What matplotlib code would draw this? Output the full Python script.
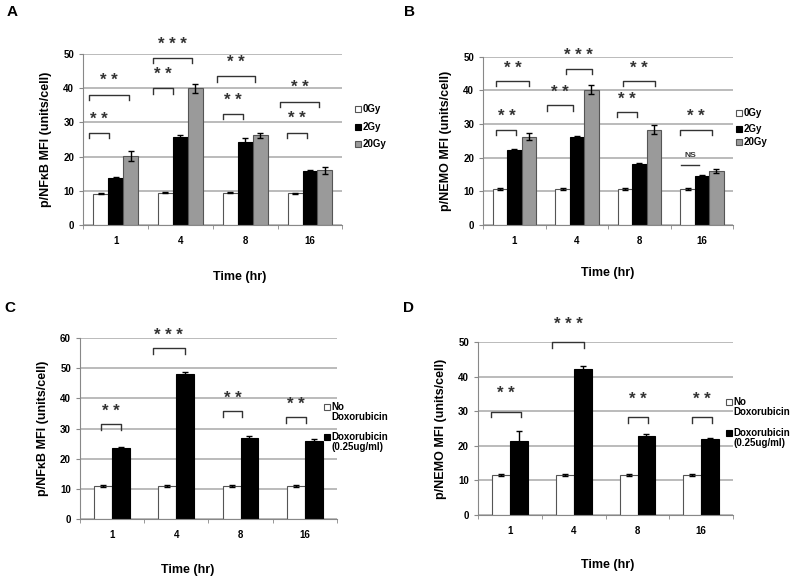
import matplotlib
matplotlib.use("Agg")
import matplotlib.pyplot as plt
from matplotlib.patches import Rectangle
import numpy as np

plt.rcParams['font.family'] = ['Liberation Sans', 'DejaVu Sans']
plt.rcParams['font.weight'] = 'bold'

times = ['1', '4', '8', '16']

# Panel A - p/NFkB, irradiation
a_0gy = [9.2, 9.5, 9.5, 9.3]
a_0gy_err = [0.2, 0.2, 0.2, 0.2]
a_2gy = [13.8, 25.8, 24.3, 15.8]
a_2gy_err = [0.3, 0.4, 1.1, 0.2]
a_20gy = [20.2, 40.0, 26.2, 16.0]
a_20gy_err = [1.4, 1.3, 0.7, 1.1]

# Panel B - p/NEMO, irradiation
b_0gy = [10.7, 10.7, 10.7, 10.7]
b_0gy_err = [0.2, 0.2, 0.2, 0.2]
b_2gy = [22.3, 26.3, 18.0, 14.7]
b_2gy_err = [0.2, 0.3, 0.5, 0.2]
b_20gy = [26.3, 40.2, 28.4, 16.1]
b_20gy_err = [1.0, 1.3, 1.3, 0.5]

# Panel C - p/NFkB, doxorubicin
c_nodox = [11.0, 11.0, 11.0, 11.0]
c_nodox_err = [0.2, 0.3, 0.2, 0.2]
c_dox = [23.5, 48.0, 27.0, 26.0]
c_dox_err = [0.5, 0.8, 0.7, 0.5]

# Panel D - p/NEMO, doxorubicin
d_nodox = [11.6, 11.6, 11.6, 11.6]
d_nodox_err = [0.2, 0.2, 0.2, 0.2]
d_dox = [21.5, 42.2, 22.8, 22.0]
d_dox_err = [2.8, 1.0, 0.6, 0.4]

irr_labels = ['0Gy', '2Gy', '20Gy']
dox_labels = ['No\nDoxorubicin', 'Doxorubicin\n(0.25ug/ml)']

# significance brackets: (group, x-offset left, x-offset right, bracket height, label)
a_sig = [(0, -0.41, -0.10, 26.9, '* *'), (0, -0.41, 0.20, 38.1, '* *'),
         (1, -0.42, -0.12, 40.0, '* *'), (1, -0.42, 0.18, 48.9, '* * *'),
         (2, -0.34, -0.03, 32.5, '* *'), (2, -0.43, 0.15, 43.5, '* *'),
         (3, -0.36, -0.05, 27.0, '* *'), (3, -0.46, 0.14, 36.1, '* *')]
b_sig = [(0, -0.29, 0.03, 28.4, '* *'), (0, -0.29, 0.23, 42.9, '* *'),
         (1, -0.48, -0.07, 35.6, '* *'), (1, -0.18, 0.24, 46.5, '* * *'),
         (2, -0.36, -0.04, 33.7, '* *'), (2, -0.26, 0.25, 42.9, '* *'),
         (3, -0.35, 0.16, 28.4, '* *')]
c_sig = [(0, -0.17, 0.14, 31.4, '* *'), (1, -0.37, 0.13, 56.7, '* * *'),
         (2, -0.28, 0.03, 35.7, '* *'), (3, -0.29, 0.02, 33.8, '* *')]
d_sig = [(0, -0.29, 0.17, 29.9, '* *'), (1, -0.34, 0.16, 50.0, '* * *'),
         (2, -0.15, 0.17, 28.3, '* *'), (3, -0.14, 0.17, 28.3, '* *')]

GRID = '#a8a8a8'
GRAY = '#9a9a9a'
EDGE = '#555555'


def style_axes(ax, ymax, step, ylabel):
    ax.set_xlim(-0.5, 3.5)
    ax.set_ylim(0, ymax)
    ax.set_yticks(np.arange(0, ymax + 1, step))
    ax.yaxis.grid(True, color=GRID, linewidth=1.1)
    ax.set_axisbelow(True)
    for s in ['top', 'right']:
        ax.spines[s].set_visible(False)
    ax.spines['left'].set_color('#888888')
    ax.spines['bottom'].set_color('#888888')
    ax.set_xticks(range(len(times)))
    ax.set_xticklabels(times, fontsize=7, fontweight='bold')
    ax.set_xticks(np.arange(-0.5, 4.0, 1.0), minor=True)
    ax.tick_params(axis='x', which='major', length=0, pad=8)
    ax.tick_params(axis='x', which='minor', length=3, color='#888888')
    ax.tick_params(axis='y', length=3, color='#888888', labelsize=7)
    for t in ax.get_yticklabels():
        t.set_fontweight('bold')
    ax.set_ylabel(ylabel, fontsize=9, fontweight='bold', labelpad=8)


def draw_sig(ax, sig, ymax, star_off):
    leg = 0.032 * ymax
    for g, xl, xr, y, lab in sig:
        ax.plot([g + xl, g + xl, g + xr, g + xr], [y - leg, y, y, y - leg],
                color='#333333', linewidth=1.0, clip_on=False)
        ax.text(g + (xl + xr) / 2, y + star_off * ymax, lab, ha='center',
                va='center', fontsize=12, color='#333333', clip_on=False)


def fig_legend(fig, labels, colors, px, rows):
    # px: x of square (pixels), rows: y of first text line for each entry (pixels)
    for lab, (fc, ec), py in zip(labels, colors, rows):
        s = 6
        fig.patches.append(Rectangle(((px) / 800, 1 - (py + s / 2) / 580), s / 800, s / 580,
                                     facecolor=fc, edgecolor=ec, linewidth=0.8,
                                     transform=fig.transFigure, figure=fig))
        fig.text((px + s + 1.5) / 800, 1 - (py - 5) / 580, lab, ha='left', va='top',
                 fontsize=7, fontweight='bold', linespacing=1.0)


fig = plt.figure(figsize=(8, 5.8), dpi=100)
x = np.arange(len(times))
ekw = dict(ecolor='black', capsize=2, elinewidth=1, capthick=1)

# ---- A ----
axA = fig.add_axes([0.104, 0.612, 0.324, 0.295])
w = 0.23
axA.bar(x - w, a_0gy, w, yerr=a_0gy_err, color='white', edgecolor=EDGE, linewidth=0.8, error_kw=ekw)
axA.bar(x, a_2gy, w, yerr=a_2gy_err, color='black', edgecolor='black', linewidth=0.8, error_kw=ekw)
axA.bar(x + w, a_20gy, w, yerr=a_20gy_err, color=GRAY, edgecolor=EDGE, linewidth=0.8, error_kw=ekw)
style_axes(axA, 50, 10, 'p/NF\u03baB MFI (units/cell)')
draw_sig(axA, a_sig, 50, 0.08)

# ---- B ----
axB = fig.add_axes([0.604, 0.612, 0.3125, 0.29])
axB.bar(x - w, b_0gy, w, yerr=b_0gy_err, color='white', edgecolor=EDGE, linewidth=0.8, error_kw=ekw)
axB.bar(x, b_2gy, w, yerr=b_2gy_err, color='black', edgecolor='black', linewidth=0.8, error_kw=ekw)
axB.bar(x + w, b_20gy, w, yerr=b_20gy_err, color=GRAY, edgecolor=EDGE, linewidth=0.8, error_kw=ekw)
style_axes(axB, 50, 10, 'p/NEMO MFI (units/cell)')
draw_sig(axB, b_sig, 50, 0.075)
# NS line at 16 h
axB.plot([3 - 0.34, 3 - 0.04], [17.8, 17.8], color='#333333', linewidth=1.0)
axB.text(3 - 0.19, 20.6, 'NS', ha='center', va='center', fontsize=6, color='#333333')

# ---- C ----
axC = fig.add_axes([0.10, 0.105, 0.321, 0.312])
w2 = 0.28
axC.bar(x - w2 / 2, c_nodox, w2, yerr=c_nodox_err, color='white', edgecolor=EDGE, linewidth=0.8, error_kw=ekw)
axC.bar(x + w2 / 2, c_dox, w2, yerr=c_dox_err, color='black', edgecolor='black', linewidth=0.8, error_kw=ekw)
style_axes(axC, 60, 10, 'p/NF\u03baB MFI (units/cell)')
draw_sig(axC, c_sig, 60, 0.072)

# ---- D ----
axD = fig.add_axes([0.5975, 0.112, 0.319, 0.298])
axD.bar(x - w2 / 2, d_nodox, w2, yerr=d_nodox_err, color='white', edgecolor=EDGE, linewidth=0.8, error_kw=ekw)
axD.bar(x + w2 / 2, d_dox, w2, yerr=d_dox_err, color='black', edgecolor='black', linewidth=0.8, error_kw=ekw)
style_axes(axD, 50, 10, 'p/NEMO MFI (units/cell)')
draw_sig(axD, d_sig, 50, 0.105)

# legends
irr_colors = [('white', EDGE), ('black', 'black'), (GRAY, EDGE)]
dox_colors = [('white', EDGE), ('black', 'black')]
fig_legend(fig, irr_labels, irr_colors, 355, [109, 127, 144])
fig_legend(fig, irr_labels, irr_colors, 736, [113, 129, 142])
fig_legend(fig, dox_labels, dox_colors, 324, [407, 437])
fig_legend(fig, dox_labels, dox_colors, 726, [402, 433])

# x labels
fig.text(0.299, 1 - 277 / 580, 'Time (hr)', ha='center', va='center', fontsize=9, fontweight='bold')
fig.text(0.759, 1 - 273 / 580, 'Time (hr)', ha='center', va='center', fontsize=9, fontweight='bold')
fig.text(0.234, 1 - 570 / 580, 'Time (hr)', ha='center', va='center', fontsize=9, fontweight='bold')
fig.text(0.759, 1 - 565 / 580, 'Time (hr)', ha='center', va='center', fontsize=9, fontweight='bold')

# panel letters
for lab, px, py in [('A', 12, 12), ('B', 410, 12), ('C', 10, 308), ('D', 408, 308)]:
    fig.text(px / 800, 1 - py / 580, lab, ha='center', va='center', fontsize=11, fontweight='bold')

fig.savefig('out.png', dpi=100)
